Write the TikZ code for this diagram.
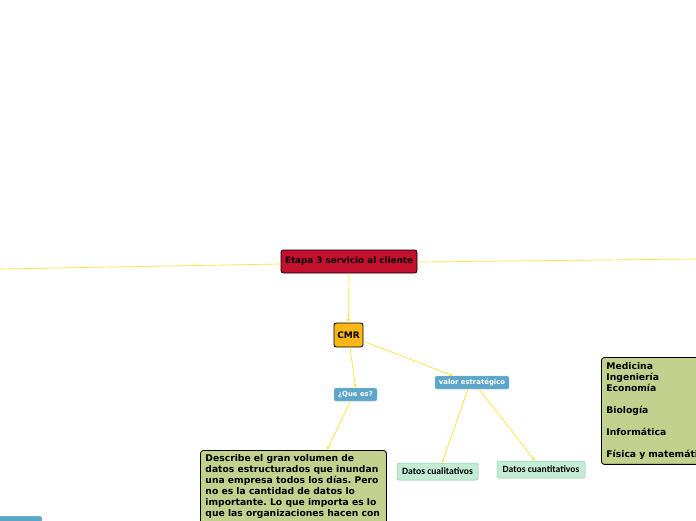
\documentclass[tikz,border=0pt]{standalone}
\usepackage{fontspec}
\setmainfont{DejaVu Sans}
\newfontfamily\carl{Carlito}
\usetikzlibrary{arrows.meta}
\frenchspacing
\definecolor{crimson}{HTML}{C4102F}
\definecolor{cmrorange}{HTML}{FBB617}
\definecolor{topicblue}{HTML}{5EA6C9}
\definecolor{olive}{HTML}{C2D18D}
\definecolor{mint}{HTML}{C4ECD5}
\definecolor{mintline}{HTML}{86CBA8}
\definecolor{linkyellow}{HTML}{FFE23A}
\tikzset{
  conn/.style={draw=linkyellow, line width=0.7pt},
  arr/.style={conn, -{Stealth[length=4pt,width=3.5pt]}},
  mainbox/.style={draw=black, fill=crimson, rounded corners=2.5pt, line width=0.9pt, inner sep=0pt,
    font=\bfseries\fontsize{8.8}{10}\selectfont},
  cmrbox/.style={draw=black, fill=cmrorange, rounded corners=2.5pt, line width=0.9pt, inner sep=0pt,
    font=\bfseries\fontsize{9}{10}\selectfont},
  bluebox/.style={fill=topicblue, draw=topicblue!70!white, rounded corners=1.5pt, inner sep=0pt, text=white,
    font=\bfseries\fontsize{6.9}{8}\selectfont},
  mintbox/.style={fill=mint, draw=mintline, rounded corners=2pt, line width=0.5pt, inner sep=0pt,
    font=\carl\bfseries\fontsize{9.6}{10}\selectfont},
  olivebox/.style={fill=olive, draw=black, rounded corners=3pt, line width=0.9pt, inner sep=5pt, align=left,
    anchor=north west, font=\bfseries\fontsize{9.2}{11}\selectfont}
}
\begin{document}
\begin{tikzpicture}[x=1pt,y=-1pt]
\useasboundingbox (0,0) rectangle (696,520);
\clip (0,0) rectangle (696,520);
\fill[white] (0,0) rectangle (696,520);
% nodes
\node[mainbox, minimum width=136pt, minimum height=23pt] (main) at (349,261.5) {Etapa 3 servicio al cliente};
\node[cmrbox, minimum width=29pt, minimum height=24pt] (cmr) at (348.5,335) {CMR};
\node[bluebox, minimum width=43pt, minimum height=13pt] (que) at (355.5,394.5) {¿Que es?};
\node[bluebox, minimum width=74pt, minimum height=13pt] (valor) at (472,382.5) {valor estratégico};
\node[mintbox, minimum width=81pt, minimum height=17pt] (cuali) at (437.5,471.5) {Datos cualitativos};
\node[mintbox, minimum width=88pt, minimum height=17pt] (cuanti) at (541,469.5) {Datos cuantitativos};
\node[olivebox, inner ysep=4pt] (desc) at (200,450) {\parbox[t][96pt][t]{176pt}{\raggedright Describe el gran volumen de\\datos estructurados que inundan\\una empresa todos los días. Pero\\no es la cantidad de datos lo\\importante. Lo que importa es lo\\que las organizaciones hacen con}};
\node[olivebox, text width=130pt] (areas) at (601,357) {Medicina\\Ingeniería\\Economía\\[11pt]Biología\\[11pt]Informática\\[11pt]Física y matemáticas};
\node[bluebox, minimum width=60pt, minimum height=14pt, anchor=north east] (leftbar) at (42,516) {};
% off-picture ends
\coordinate (farleft) at (0,269);
\coordinate (farright) at (696,259);
% connectors
\draw[conn] (main.west |- 0,264) -- (farleft);
\draw[conn] (main.east |- 0,262) -- (farright);
\draw[arr] (main.south) -- (cmr.north);
\draw[arr] (cmr.south) ++(1.5,0) -- (que.north);
\draw[arr] (cmr.east) ++(2,7) -- ([xshift=-19pt]valor.north);
\draw[arr] ([xshift=-5pt]que.south) -- ([xshift=127pt]desc.north west);
\draw[arr] ([xshift=-4pt]valor.south) -- ([xshift=4.5pt]cuali.north);
\draw[arr] ([xshift=7pt]valor.south) -- ([xshift=-6pt]cuanti.north);
\end{tikzpicture}
\end{document}
